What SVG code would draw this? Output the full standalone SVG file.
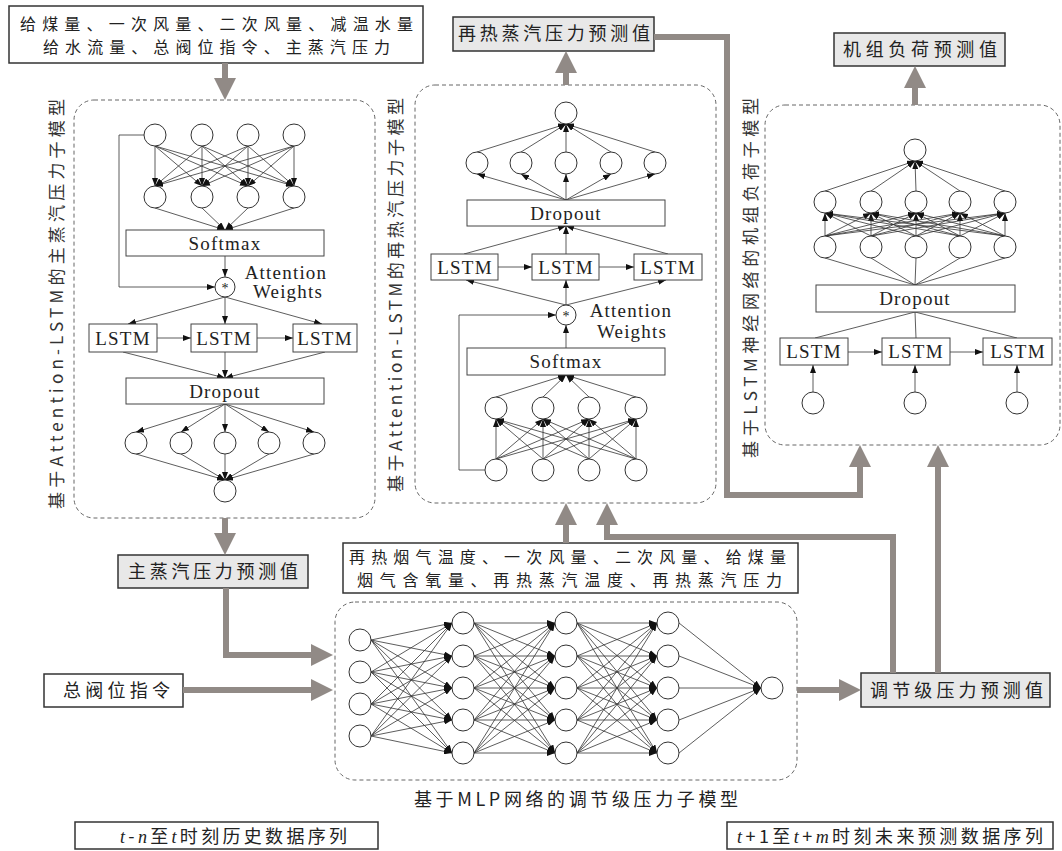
<svg xmlns="http://www.w3.org/2000/svg" width="1062" height="851" viewBox="0 0 1062 851">
<defs>
<marker id="ba" viewBox="0 0 8 6" markerWidth="8" markerHeight="6" refX="8" refY="3" orient="auto" markerUnits="userSpaceOnUse"><path d="M0,0L8,3L0,6z" fill="#111"/></marker>
<marker id="ga" viewBox="0 0 22 22" markerWidth="22" markerHeight="22" refX="11" refY="11" orient="auto" markerUnits="userSpaceOnUse"><path d="M0,0L22,11L0,22z" fill="#918a86"/></marker>
<style>
.box{fill:#fff;stroke:#333;stroke-width:1.5}
.obox{fill:#e8e8e8;stroke:#333;stroke-width:1.5}
.nbox{fill:#fff;stroke:#444;stroke-width:1}
.dash{fill:none;stroke:#666;stroke-width:1;stroke-dasharray:4 3}
.n{fill:#fff;stroke:#333;stroke-width:1}
.ln{stroke:#333;stroke-width:0.8;fill:none}
.la{stroke:#333;stroke-width:0.8;fill:none;marker-end:url(#ba)}
.g{stroke:#918a86;stroke-width:6;fill:none;marker-end:url(#ga)}
.cjk{font-family:"Noto Sans CJK SC",sans-serif;font-size:18px;fill:#222}
.c2{font-family:"Noto Sans CJK SC",sans-serif;font-size:16px;fill:#222}
.vl{font-family:"Noto Sans CJK SC",sans-serif;font-size:17px;fill:#333}
.lat{font-family:"Liberation Serif",serif;font-size:19px;letter-spacing:1.2px;fill:#222;text-anchor:middle}
.it{font-family:"Liberation Serif",serif;font-style:italic}
</style>
</defs>
<rect width="1062" height="851" fill="#fff"/>

<g id="input-top">
<rect class="box" x="9" y="6" width="414" height="57"/>
<text class="c2" x="20" y="30" textLength="393" lengthAdjust="spacing">给煤量、一次风量、二次风量、减温水量</text>
<text class="c2" x="43" y="53" textLength="347" lengthAdjust="spacing">给水流量、总阀位指令、主蒸汽压力</text>
</g>

<g id="main-model">
<rect class="dash" x="74" y="100" width="301" height="418" rx="20"/>
<text class="vl" transform="translate(63,304) rotate(-90)" x="-205" y="0" textLength="410" lengthAdjust="spacing">基于Attention-LSTM的主蒸汽压力子模型</text>
<g class="la">
<line x1="155" y1="146" x2="155" y2="186"/><line x1="155" y1="146" x2="202" y2="186"/><line x1="155" y1="146" x2="248" y2="186"/><line x1="155" y1="146" x2="294" y2="186"/>
<line x1="202" y1="146" x2="155" y2="186"/><line x1="202" y1="146" x2="202" y2="186"/><line x1="202" y1="146" x2="248" y2="186"/><line x1="202" y1="146" x2="294" y2="186"/>
<line x1="248" y1="146" x2="155" y2="186"/><line x1="248" y1="146" x2="202" y2="186"/><line x1="248" y1="146" x2="248" y2="186"/><line x1="248" y1="146" x2="294" y2="186"/>
<line x1="294" y1="146" x2="155" y2="186"/><line x1="294" y1="146" x2="202" y2="186"/><line x1="294" y1="146" x2="248" y2="186"/><line x1="294" y1="146" x2="294" y2="186"/>
<line x1="155" y1="208" x2="225" y2="230"/><line x1="202" y1="208" x2="225" y2="230"/><line x1="248" y1="208" x2="225" y2="230"/><line x1="294" y1="208" x2="225" y2="230"/>
<line x1="225" y1="256" x2="225" y2="277"/>
<path d="M144,135H119V287H215"/>
<line x1="225" y1="297" x2="128" y2="324"/><line x1="225" y1="297" x2="225" y2="324"/><line x1="225" y1="297" x2="322" y2="324"/>
<line x1="157" y1="338" x2="191" y2="338"/><line x1="257" y1="338" x2="293" y2="338"/>
<line x1="123" y1="352" x2="225" y2="378"/><line x1="225" y1="352" x2="225" y2="378"/><line x1="325" y1="352" x2="225" y2="378"/>
<line x1="225" y1="404" x2="136" y2="432"/><line x1="225" y1="404" x2="181" y2="432"/><line x1="225" y1="404" x2="225" y2="432"/><line x1="225" y1="404" x2="269" y2="432"/><line x1="225" y1="404" x2="314" y2="432"/>
<line x1="136" y1="454" x2="225" y2="480"/><line x1="181" y1="454" x2="225" y2="480"/><line x1="225" y1="454" x2="225" y2="480"/><line x1="269" y1="454" x2="225" y2="480"/><line x1="314" y1="454" x2="225" y2="480"/>
</g>
<circle class="n" cx="155" cy="135" r="11"/><circle class="n" cx="202" cy="135" r="11"/><circle class="n" cx="248" cy="135" r="11"/><circle class="n" cx="294" cy="135" r="11"/>
<circle class="n" cx="155" cy="197" r="11"/><circle class="n" cx="202" cy="197" r="11"/><circle class="n" cx="248" cy="197" r="11"/><circle class="n" cx="294" cy="197" r="11"/>
<rect class="nbox" x="126" y="230" width="198" height="26"/>
<text class="lat" x="225" y="250">Softmax</text>
<circle class="n" cx="225" cy="287" r="10"/>
<text class="lat" x="225" y="293" style="font-size:14px;letter-spacing:0">*</text>
<text class="lat" x="286" y="279">Attention</text>
<text class="lat" x="288" y="298">Weights</text>
<rect class="nbox" x="89" y="324" width="68" height="28"/><rect class="nbox" x="191" y="324" width="66" height="28"/><rect class="nbox" x="293" y="324" width="64" height="28"/>
<text class="lat" x="123" y="345">LSTM</text><text class="lat" x="224" y="345">LSTM</text><text class="lat" x="325" y="345">LSTM</text>
<rect class="nbox" x="126" y="378" width="198" height="26"/>
<text class="lat" x="225" y="398">Dropout</text>
<circle class="n" cx="136" cy="443" r="11"/><circle class="n" cx="181" cy="443" r="11"/><circle class="n" cx="225" cy="443" r="11"/><circle class="n" cx="269" cy="443" r="11"/><circle class="n" cx="314" cy="443" r="11"/>
<circle class="n" cx="225" cy="491" r="11"/>
</g>

<g id="reheat-model">
<rect class="dash" x="415" y="85" width="301" height="418" rx="20"/>
<text class="vl" transform="translate(402,295) rotate(-90)" x="-197" y="0" textLength="394" lengthAdjust="spacing">基于Attention-LSTM的再热汽压力子模型</text>
<g class="la">
<line x1="477" y1="152" x2="566" y2="124"/><line x1="521" y1="152" x2="566" y2="124"/><line x1="566" y1="152" x2="566" y2="124"/><line x1="611" y1="152" x2="566" y2="124"/><line x1="655" y1="152" x2="566" y2="124"/>
<line x1="566" y1="200" x2="477" y2="174"/><line x1="566" y1="200" x2="521" y2="174"/><line x1="566" y1="200" x2="566" y2="174"/><line x1="566" y1="200" x2="611" y2="174"/><line x1="566" y1="200" x2="655" y2="174"/>
<line x1="464" y1="254" x2="566" y2="226"/><line x1="566" y1="254" x2="566" y2="226"/><line x1="668" y1="254" x2="566" y2="226"/>
<line x1="498" y1="267" x2="532" y2="267"/><line x1="599" y1="267" x2="634" y2="267"/>
<line x1="566" y1="305" x2="466" y2="280"/><line x1="566" y1="305" x2="566" y2="280"/><line x1="566" y1="305" x2="666" y2="280"/>
<line x1="566" y1="348" x2="566" y2="325"/>
<path d="M485,470H459V315H556"/>
<line x1="496" y1="459" x2="496" y2="419"/><line x1="496" y1="459" x2="543" y2="419"/><line x1="496" y1="459" x2="589" y2="419"/><line x1="496" y1="459" x2="636" y2="419"/>
<line x1="543" y1="459" x2="496" y2="419"/><line x1="543" y1="459" x2="543" y2="419"/><line x1="543" y1="459" x2="589" y2="419"/><line x1="543" y1="459" x2="636" y2="419"/>
<line x1="589" y1="459" x2="496" y2="419"/><line x1="589" y1="459" x2="543" y2="419"/><line x1="589" y1="459" x2="589" y2="419"/><line x1="589" y1="459" x2="636" y2="419"/>
<line x1="636" y1="459" x2="496" y2="419"/><line x1="636" y1="459" x2="543" y2="419"/><line x1="636" y1="459" x2="589" y2="419"/><line x1="636" y1="459" x2="636" y2="419"/>
<line x1="496" y1="397" x2="566" y2="375"/><line x1="543" y1="397" x2="566" y2="375"/><line x1="589" y1="397" x2="566" y2="375"/><line x1="636" y1="397" x2="566" y2="375"/>
</g>
<circle class="n" cx="566" cy="113" r="11"/>
<circle class="n" cx="477" cy="163" r="11"/><circle class="n" cx="521" cy="163" r="11"/><circle class="n" cx="566" cy="163" r="11"/><circle class="n" cx="611" cy="163" r="11"/><circle class="n" cx="655" cy="163" r="11"/>
<rect class="nbox" x="467" y="200" width="198" height="26"/>
<text class="lat" x="566" y="220">Dropout</text>
<rect class="nbox" x="431" y="254" width="67" height="26"/><rect class="nbox" x="532" y="254" width="67" height="26"/><rect class="nbox" x="634" y="254" width="68" height="26"/>
<text class="lat" x="465" y="274">LSTM</text><text class="lat" x="566" y="274">LSTM</text><text class="lat" x="668" y="274">LSTM</text>
<circle class="n" cx="566" cy="315" r="10"/>
<text class="lat" x="566" y="321" style="font-size:14px;letter-spacing:0">*</text>
<text class="lat" x="631" y="317">Attention</text>
<text class="lat" x="632" y="338">Weights</text>
<rect class="nbox" x="467" y="348" width="198" height="27"/>
<text class="lat" x="566" y="368">Softmax</text>
<circle class="n" cx="496" cy="408" r="11"/><circle class="n" cx="543" cy="408" r="11"/><circle class="n" cx="589" cy="408" r="11"/><circle class="n" cx="636" cy="408" r="11"/>
<circle class="n" cx="496" cy="470" r="11"/><circle class="n" cx="543" cy="470" r="11"/><circle class="n" cx="589" cy="470" r="11"/><circle class="n" cx="636" cy="470" r="11"/>
</g>

<g id="load-model">
<rect class="dash" x="765" y="105" width="295" height="340" rx="20"/>
<text class="vl" transform="translate(757,278) rotate(-90)" x="-180" y="0" textLength="360" lengthAdjust="spacing">基于LSTM神经网络的机组负荷子模型</text>
<g class="la">
<line x1="825" y1="236" x2="825" y2="213"/><line x1="825" y1="236" x2="871" y2="213"/><line x1="825" y1="236" x2="916" y2="213"/><line x1="825" y1="236" x2="960" y2="213"/><line x1="825" y1="236" x2="1005" y2="213"/>
<line x1="871" y1="236" x2="825" y2="213"/><line x1="871" y1="236" x2="871" y2="213"/><line x1="871" y1="236" x2="916" y2="213"/><line x1="871" y1="236" x2="960" y2="213"/><line x1="871" y1="236" x2="1005" y2="213"/>
<line x1="916" y1="236" x2="825" y2="213"/><line x1="916" y1="236" x2="871" y2="213"/><line x1="916" y1="236" x2="916" y2="213"/><line x1="916" y1="236" x2="960" y2="213"/><line x1="916" y1="236" x2="1005" y2="213"/>
<line x1="960" y1="236" x2="825" y2="213"/><line x1="960" y1="236" x2="871" y2="213"/><line x1="960" y1="236" x2="916" y2="213"/><line x1="960" y1="236" x2="960" y2="213"/><line x1="960" y1="236" x2="1005" y2="213"/>
<line x1="1005" y1="236" x2="825" y2="213"/><line x1="1005" y1="236" x2="871" y2="213"/><line x1="1005" y1="236" x2="916" y2="213"/><line x1="1005" y1="236" x2="960" y2="213"/><line x1="1005" y1="236" x2="1005" y2="213"/>
<line x1="825" y1="191" x2="915" y2="161"/><line x1="871" y1="191" x2="915" y2="161"/><line x1="916" y1="191" x2="915" y2="161"/><line x1="960" y1="191" x2="915" y2="161"/><line x1="1005" y1="191" x2="915" y2="161"/>
<line x1="848" y1="352" x2="882" y2="352"/><line x1="950" y1="352" x2="983" y2="352"/>
<line x1="813" y1="392" x2="813" y2="365"/><line x1="915" y1="392" x2="915" y2="365"/><line x1="1017" y1="392" x2="1017" y2="365"/>
</g>
<g class="ln">
<line x1="825" y1="258" x2="915" y2="285"/><line x1="871" y1="258" x2="915" y2="285"/><line x1="916" y1="258" x2="915" y2="285"/><line x1="960" y1="258" x2="915" y2="285"/><line x1="1005" y1="258" x2="915" y2="285"/>
<line x1="915" y1="312" x2="815" y2="338"/><line x1="915" y1="312" x2="916" y2="338"/><line x1="915" y1="312" x2="1017" y2="338"/>
</g>
<circle class="n" cx="915" cy="150" r="11"/>
<circle class="n" cx="825" cy="202" r="11"/><circle class="n" cx="871" cy="202" r="11"/><circle class="n" cx="916" cy="202" r="11"/><circle class="n" cx="960" cy="202" r="11"/><circle class="n" cx="1005" cy="202" r="11"/>
<circle class="n" cx="825" cy="247" r="11"/><circle class="n" cx="871" cy="247" r="11"/><circle class="n" cx="916" cy="247" r="11"/><circle class="n" cx="960" cy="247" r="11"/><circle class="n" cx="1005" cy="247" r="11"/>
<rect class="nbox" x="816" y="285" width="199" height="27"/>
<text class="lat" x="915" y="305">Dropout</text>
<rect class="nbox" x="780" y="338" width="68" height="27"/><rect class="nbox" x="882" y="338" width="68" height="27"/><rect class="nbox" x="983" y="338" width="69" height="27"/>
<text class="lat" x="814" y="358">LSTM</text><text class="lat" x="916" y="358">LSTM</text><text class="lat" x="1018" y="358">LSTM</text>
<circle class="n" cx="813" cy="403" r="11"/><circle class="n" cx="915" cy="403" r="11"/><circle class="n" cx="1017" cy="403" r="11"/>
</g>

<g id="mlp-model">
<rect class="dash" x="335" y="602" width="462" height="178" rx="20"/>
<g class="la">
<line x1="371" y1="640" x2="452" y2="623"/><line x1="371" y1="640" x2="452" y2="656"/><line x1="371" y1="640" x2="452" y2="688"/><line x1="371" y1="640" x2="452" y2="720"/><line x1="371" y1="640" x2="452" y2="753"/>
<line x1="371" y1="672" x2="452" y2="623"/><line x1="371" y1="672" x2="452" y2="656"/><line x1="371" y1="672" x2="452" y2="688"/><line x1="371" y1="672" x2="452" y2="720"/><line x1="371" y1="672" x2="452" y2="753"/>
<line x1="371" y1="704" x2="452" y2="623"/><line x1="371" y1="704" x2="452" y2="656"/><line x1="371" y1="704" x2="452" y2="688"/><line x1="371" y1="704" x2="452" y2="720"/><line x1="371" y1="704" x2="452" y2="753"/>
<line x1="371" y1="736" x2="452" y2="623"/><line x1="371" y1="736" x2="452" y2="656"/><line x1="371" y1="736" x2="452" y2="688"/><line x1="371" y1="736" x2="452" y2="720"/><line x1="371" y1="736" x2="452" y2="753"/>
<line x1="474" y1="623" x2="555" y2="623"/><line x1="474" y1="623" x2="555" y2="656"/><line x1="474" y1="623" x2="555" y2="688"/><line x1="474" y1="623" x2="555" y2="720"/><line x1="474" y1="623" x2="555" y2="753"/>
<line x1="474" y1="656" x2="555" y2="623"/><line x1="474" y1="656" x2="555" y2="656"/><line x1="474" y1="656" x2="555" y2="688"/><line x1="474" y1="656" x2="555" y2="720"/><line x1="474" y1="656" x2="555" y2="753"/>
<line x1="474" y1="688" x2="555" y2="623"/><line x1="474" y1="688" x2="555" y2="656"/><line x1="474" y1="688" x2="555" y2="688"/><line x1="474" y1="688" x2="555" y2="720"/><line x1="474" y1="688" x2="555" y2="753"/>
<line x1="474" y1="720" x2="555" y2="623"/><line x1="474" y1="720" x2="555" y2="656"/><line x1="474" y1="720" x2="555" y2="688"/><line x1="474" y1="720" x2="555" y2="720"/><line x1="474" y1="720" x2="555" y2="753"/>
<line x1="474" y1="753" x2="555" y2="623"/><line x1="474" y1="753" x2="555" y2="656"/><line x1="474" y1="753" x2="555" y2="688"/><line x1="474" y1="753" x2="555" y2="720"/><line x1="474" y1="753" x2="555" y2="753"/>
<line x1="577" y1="623" x2="657" y2="623"/><line x1="577" y1="623" x2="657" y2="656"/><line x1="577" y1="623" x2="657" y2="688"/><line x1="577" y1="623" x2="657" y2="720"/><line x1="577" y1="623" x2="657" y2="753"/>
<line x1="577" y1="656" x2="657" y2="623"/><line x1="577" y1="656" x2="657" y2="656"/><line x1="577" y1="656" x2="657" y2="688"/><line x1="577" y1="656" x2="657" y2="720"/><line x1="577" y1="656" x2="657" y2="753"/>
<line x1="577" y1="688" x2="657" y2="623"/><line x1="577" y1="688" x2="657" y2="656"/><line x1="577" y1="688" x2="657" y2="688"/><line x1="577" y1="688" x2="657" y2="720"/><line x1="577" y1="688" x2="657" y2="753"/>
<line x1="577" y1="720" x2="657" y2="623"/><line x1="577" y1="720" x2="657" y2="656"/><line x1="577" y1="720" x2="657" y2="688"/><line x1="577" y1="720" x2="657" y2="720"/><line x1="577" y1="720" x2="657" y2="753"/>
<line x1="577" y1="753" x2="657" y2="623"/><line x1="577" y1="753" x2="657" y2="656"/><line x1="577" y1="753" x2="657" y2="688"/><line x1="577" y1="753" x2="657" y2="720"/><line x1="577" y1="753" x2="657" y2="753"/>
<line x1="679" y1="623" x2="761" y2="688"/><line x1="679" y1="656" x2="761" y2="688"/><line x1="679" y1="688" x2="761" y2="688"/><line x1="679" y1="720" x2="761" y2="688"/><line x1="679" y1="753" x2="761" y2="688"/>
</g>
<circle class="n" cx="360" cy="640" r="11"/><circle class="n" cx="360" cy="672" r="11"/><circle class="n" cx="360" cy="704" r="11"/><circle class="n" cx="360" cy="736" r="11"/>
<circle class="n" cx="463" cy="623" r="11"/><circle class="n" cx="463" cy="656" r="11"/><circle class="n" cx="463" cy="688" r="11"/><circle class="n" cx="463" cy="720" r="11"/><circle class="n" cx="463" cy="753" r="11"/>
<circle class="n" cx="566" cy="623" r="11"/><circle class="n" cx="566" cy="656" r="11"/><circle class="n" cx="566" cy="688" r="11"/><circle class="n" cx="566" cy="720" r="11"/><circle class="n" cx="566" cy="753" r="11"/>
<circle class="n" cx="668" cy="623" r="11"/><circle class="n" cx="668" cy="656" r="11"/><circle class="n" cx="668" cy="688" r="11"/><circle class="n" cx="668" cy="720" r="11"/><circle class="n" cx="668" cy="753" r="11"/>
<circle class="n" cx="772" cy="688" r="11"/>
<text class="cjk" x="414" y="806" textLength="324" lengthAdjust="spacing">基于MLP网络的调节级压力子模型</text>
</g>

<g id="out-reheat"><rect class="obox" x="453" y="17" width="201" height="34"/><text class="cjk" x="458" y="40" textLength="192" lengthAdjust="spacing">再热蒸汽压力预测值</text></g>
<g id="out-load"><rect class="obox" x="834" y="33" width="171" height="33"/><text class="cjk" x="843" y="56" textLength="154" lengthAdjust="spacing">机组负荷预测值</text></g>
<g id="out-main"><rect class="obox" x="118" y="555" width="190" height="33"/><text class="cjk" x="128" y="578" textLength="170" lengthAdjust="spacing">主蒸汽压力预测值</text></g>
<g id="out-stage"><rect class="obox" x="861" y="673" width="189" height="34"/><text class="cjk" x="870" y="697" textLength="173" lengthAdjust="spacing">调节级压力预测值</text></g>
<g id="input-valve"><rect class="box" x="44" y="674" width="139" height="33"/><text class="cjk" x="63" y="697" textLength="107" lengthAdjust="spacing">总阀位指令</text></g>
<g id="input-reheat"><rect class="box" x="343" y="543" width="455" height="50"/>
<text class="c2" x="349" y="563" textLength="437" lengthAdjust="spacing">再热烟气温度、一次风量、二次风量、给煤量</text>
<text class="c2" x="357" y="586" textLength="425" lengthAdjust="spacing">烟气含氧量、再热蒸汽温度、再热蒸汽压力</text></g>
<g id="legend-hist"><rect class="box" x="75" y="822" width="303" height="27"/><text class="cjk" x="120" y="843" textLength="227" lengthAdjust="spacing"><tspan class="it">t</tspan>-<tspan class="it">n</tspan>至<tspan class="it">t</tspan>时刻历史数据序列</text></g>
<g id="legend-future"><rect class="box" x="727" y="822" width="326" height="27"/><text class="cjk" x="737" y="843" textLength="306" lengthAdjust="spacing"><tspan class="it">t</tspan>+1至<tspan class="it">t</tspan>+<tspan class="it">m</tspan>时刻未来预测数据序列</text></g>

<g id="connectors">
<path class="g" d="M225,63V89"/>
<path class="g" d="M225,518V544"/>
<path class="g" d="M226,588V655H322"/>
<path class="g" d="M183,690H322"/>
<path class="g" d="M797,690H850"/>
<path class="g" d="M938,673V456"/>
<path class="g" d="M893,673V537H607V514"/>
<path class="g" d="M566,543V514"/>
<path class="g" d="M566,85V62"/>
<path class="g" d="M654,37H727V495H860V456"/>
<path class="g" d="M915,105V77"/>
</g>
</svg>
